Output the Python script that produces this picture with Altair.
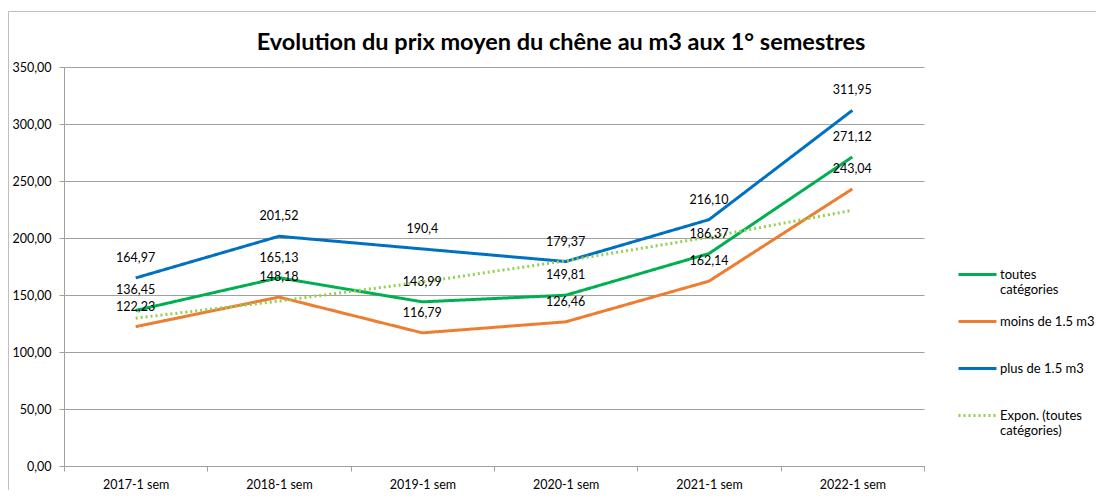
import altair as alt
import pandas as pd

categories = ["2017-1 sem", "2018-1 sem", "2019-1 sem", "2020-1 sem", "2021-1 sem", "2022-1 sem"]
toutes = [136.45, 165.13, 143.99, 149.81, 186.37, 271.12]
moins = [122.23, 148.18, 116.79, 126.46, 162.14, 243.04]
plus = [164.97, 201.52, 190.4, 179.37, 216.10, 311.95]
trend = [129.7, 144.7, 161.4, 180.0, 200.8, 224.3]
labels_toutes = ["136,45", "165,13", "143,99", "149,81", "186,37", "271,12"]
labels_moins = ["122,23", "148,18", "116,79", "126,46", "162,14", "243,04"]
labels_plus = ["164,97", "201,52", "190,4", "179,37", "216,10", "311,95"]
series_names = ["toutes catégories", "moins de 1.5 m3", "plus de 1.5 m3", "Expon. (toutes catégories)"]
series_colors = ["#00B050", "#ED7D31", "#0070C0", "#92D050"]
y_ticks = [0, 50, 100, 150, 200, 250, 300, 350]
title_text = "Evolution du prix moyen du chêne au m3 aux 1° semestres"

rows = []
for name, vals, labs in [
    (series_names[0], toutes, labels_toutes),
    (series_names[1], moins, labels_moins),
    (series_names[2], plus, labels_plus),
    (series_names[3], trend, [""] * 6),
]:
    for c, v, l in zip(categories, vals, labs):
        rows.append({"cat": c, "value": v, "series": name, "label": l})
df = pd.DataFrame(rows)

FONT = "Lato"
GRID = "#A0A0A0"

x_enc = alt.X(
    "cat:N",
    sort=categories,
    bandPosition=0.5,
    scale=alt.Scale(type="band", paddingInner=0, paddingOuter=0),
    axis=alt.Axis(
        title=None, labelAngle=0, tickBand="extent", tickSize=5, tickColor=GRID,
        domainColor=GRID, grid=False, labelPadding=7, labelFont=FONT,
        labelFontSize=12.5, labelColor="#000000",
    ),
)
y_enc = alt.Y(
    "value:Q",
    scale=alt.Scale(domain=[0, 350], nice=False),
    axis=alt.Axis(
        title=None, values=y_ticks,
        labelExpr="replace(format(datum.value, '.2f'), '.', ',')",
        grid=True, gridColor=GRID, domainColor=GRID, tickColor=GRID, tickSize=5,
        labelPadding=8, labelFont=FONT, labelFontSize=12.5, labelColor="#000000",
    ),
)

legend = alt.Legend(
    title=None, orient="none", legendX=893, legendY=187,
    symbolType="stroke", symbolSize=1444, labelFont=FONT, labelFontSize=13,
    labelColor="#000000", labelOffset=2, rowPadding=4, gridAlign="all",
    labelExpr="datum.label == 'toutes catégories' ? ['toutes', 'catégories'] : "
              "datum.label == 'Expon. (toutes catégories)' ? ['Expon. (toutes', 'catégories)'] : datum.label",
)

lines = alt.Chart(df).mark_line().encode(
    x=x_enc,
    y=y_enc,
    color=alt.Color("series:N", scale=alt.Scale(domain=series_names, range=series_colors), legend=legend),
    strokeDash=alt.StrokeDash("series:N", scale=alt.Scale(domain=series_names, range=[[1, 0], [1, 0], [1, 0], [2, 3]]), legend=legend),
    strokeWidth=alt.StrokeWidth("series:N", scale=alt.Scale(domain=series_names, range=[3, 3, 3, 2]), legend=legend),
)

texts = alt.Chart(df).transform_filter("datum.label != ''").mark_text(
    dy=-20, font=FONT, fontSize=12.5, color="#000000", baseline="middle"
).encode(x=x_enc, y=y_enc, text="label:N")

one = pd.DataFrame({"k": [0]})
border = alt.Chart(one).mark_rect(
    filled=False, stroke="#BFBFBF", strokeWidth=1, fillOpacity=0
).encode(
    x=alt.value(-55.5), x2=alt.value(1100), y=alt.value(-55.5), y2=alt.value(500)
)
title = alt.Chart(one).mark_text(
    font=FONT, fontSize=23.5, fontWeight="bold", color="#000000",
    align="center", baseline="alphabetic"
).encode(x=alt.value(497), y=alt.value(-17), text=alt.value(title_text))

chart = alt.layer(border, lines, texts, title).properties(
    width=860, height=399,
    autosize=alt.AutoSizeParams(type="none"),
    padding={"left": 56, "top": 59, "right": 172, "bottom": 24},
).configure_view(stroke=None)

chart.save("out.html", embed_options={"renderer": "svg", "actions": False})
